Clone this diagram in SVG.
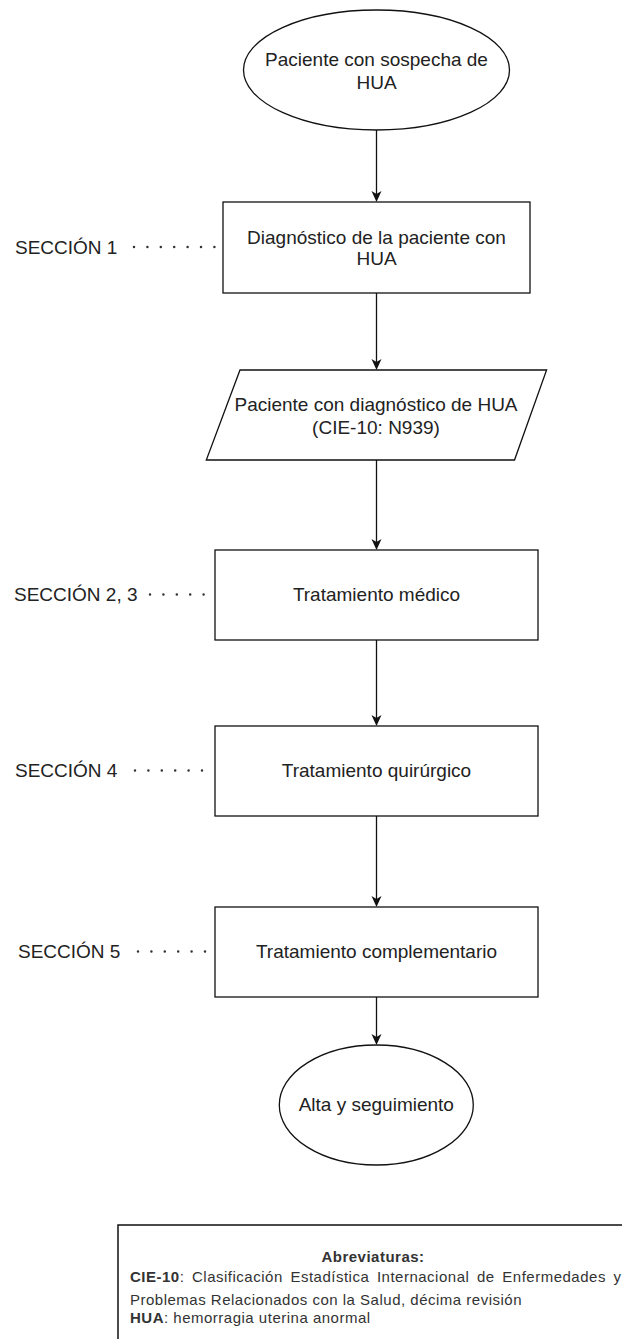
<svg xmlns="http://www.w3.org/2000/svg" width="622" height="1339" viewBox="0 0 622 1339">
<style>
.shape{fill:#fff;stroke:#111;stroke-width:1.3}
.t{font-family:"Liberation Sans",Arial,sans-serif;font-size:19px;fill:#222;text-anchor:middle}
.sec{font-family:"Liberation Sans",Arial,sans-serif;font-size:19px;fill:#222}
.conn{stroke:#111;stroke-width:1.3;fill:none}
.dots{stroke:#333;stroke-width:2.5;stroke-linecap:round;stroke-dasharray:0 13.4;fill:none}
.leg{font-family:"Liberation Sans",Arial,sans-serif;font-size:15px;fill:#333;letter-spacing:0.5px}
.b{font-weight:bold}
</style>
<defs>
<marker id="arr" viewBox="0 0 12 12" markerUnits="userSpaceOnUse" markerWidth="12" markerHeight="12" refX="3" refY="6" orient="auto">
<path d="M0,1 L11,6 L0,11 L3,6 Z" fill="#111"/>
</marker>
</defs>
<g id="connectors">
<line class="conn" x1="376.5" y1="130" x2="376.5" y2="194" marker-end="url(#arr)"/>
<line class="conn" x1="376.5" y1="293" x2="376.5" y2="362" marker-end="url(#arr)"/>
<line class="conn" x1="376.5" y1="460" x2="376.5" y2="542" marker-end="url(#arr)"/>
<line class="conn" x1="376.5" y1="640" x2="376.5" y2="718" marker-end="url(#arr)"/>
<line class="conn" x1="376.5" y1="816" x2="376.5" y2="899" marker-end="url(#arr)"/>
<line class="conn" x1="376.5" y1="997" x2="376.5" y2="1037" marker-end="url(#arr)"/>
<line class="dots" x1="134" y1="247" x2="222" y2="247"/>
<line class="dots" x1="150" y1="594.5" x2="215" y2="594.5"/>
<line class="dots" x1="135" y1="770.5" x2="215" y2="770.5"/>
<line class="dots" x1="138" y1="951.5" x2="212" y2="951.5"/>
</g>
<g id="start">
<ellipse class="shape" cx="376.5" cy="70" rx="133" ry="60"/>
<text class="t" x="376.5" y="66">Paciente con sospecha de</text>
<text class="t" x="376.5" y="88.5">HUA</text>
</g>
<g id="diagnostico">
<rect class="shape" x="223" y="202" width="307" height="91"/>
<text class="t" x="376.5" y="243.5">Diagnóstico de la paciente con</text>
<text class="t" x="376.5" y="265">HUA</text>
</g>
<g id="sec1"><text class="sec" x="15" y="253.5">SECCIÓN 1</text></g>
<g id="pacienteDiag">
<path class="shape" d="M240,370 L546.6,370 L514.5,460 L206.3,460 Z"/>
<text class="t" x="376" y="410.8">Paciente con diagnóstico de HUA</text>
<text class="t" x="376" y="434">(CIE-10: N939)</text>
</g>
<g id="medico">
<rect class="shape" x="215" y="550" width="323" height="90"/>
<text class="t" x="376.5" y="601">Tratamiento médico</text>
</g>
<g id="sec23"><text class="sec" x="14" y="601">SECCIÓN 2, 3</text></g>
<g id="quirurgico">
<rect class="shape" x="215" y="726" width="323" height="90"/>
<text class="t" x="376.5" y="777">Tratamiento quirúrgico</text>
</g>
<g id="sec4"><text class="sec" x="15" y="777">SECCIÓN 4</text></g>
<g id="complementario">
<rect class="shape" x="215" y="907" width="323" height="90"/>
<text class="t" x="376.5" y="958">Tratamiento complementario</text>
</g>
<g id="sec5"><text class="sec" x="18" y="958">SECCIÓN 5</text></g>
<g id="alta">
<ellipse class="shape" cx="376.3" cy="1105" rx="97" ry="60"/>
<text class="t" x="376.3" y="1111">Alta y seguimiento</text>
</g>
<g id="leyenda">
<rect x="118" y="1225" width="620" height="200" fill="#fff" stroke="#111" stroke-width="1.5"/>
<text class="leg b" x="373" y="1261.5" text-anchor="middle">Abreviaturas:</text>
<text class="leg" x="130" y="1282" word-spacing="3"><tspan class="b">CIE-10</tspan>: Clasificación Estadística Internacional de Enfermedades y</text>
<text class="leg" x="130" y="1305">Problemas Relacionados con la Salud, décima revisión</text>
<text class="leg" x="130" y="1323"><tspan class="b">HUA</tspan>: hemorragia uterina anormal</text>
</g>
</svg>
